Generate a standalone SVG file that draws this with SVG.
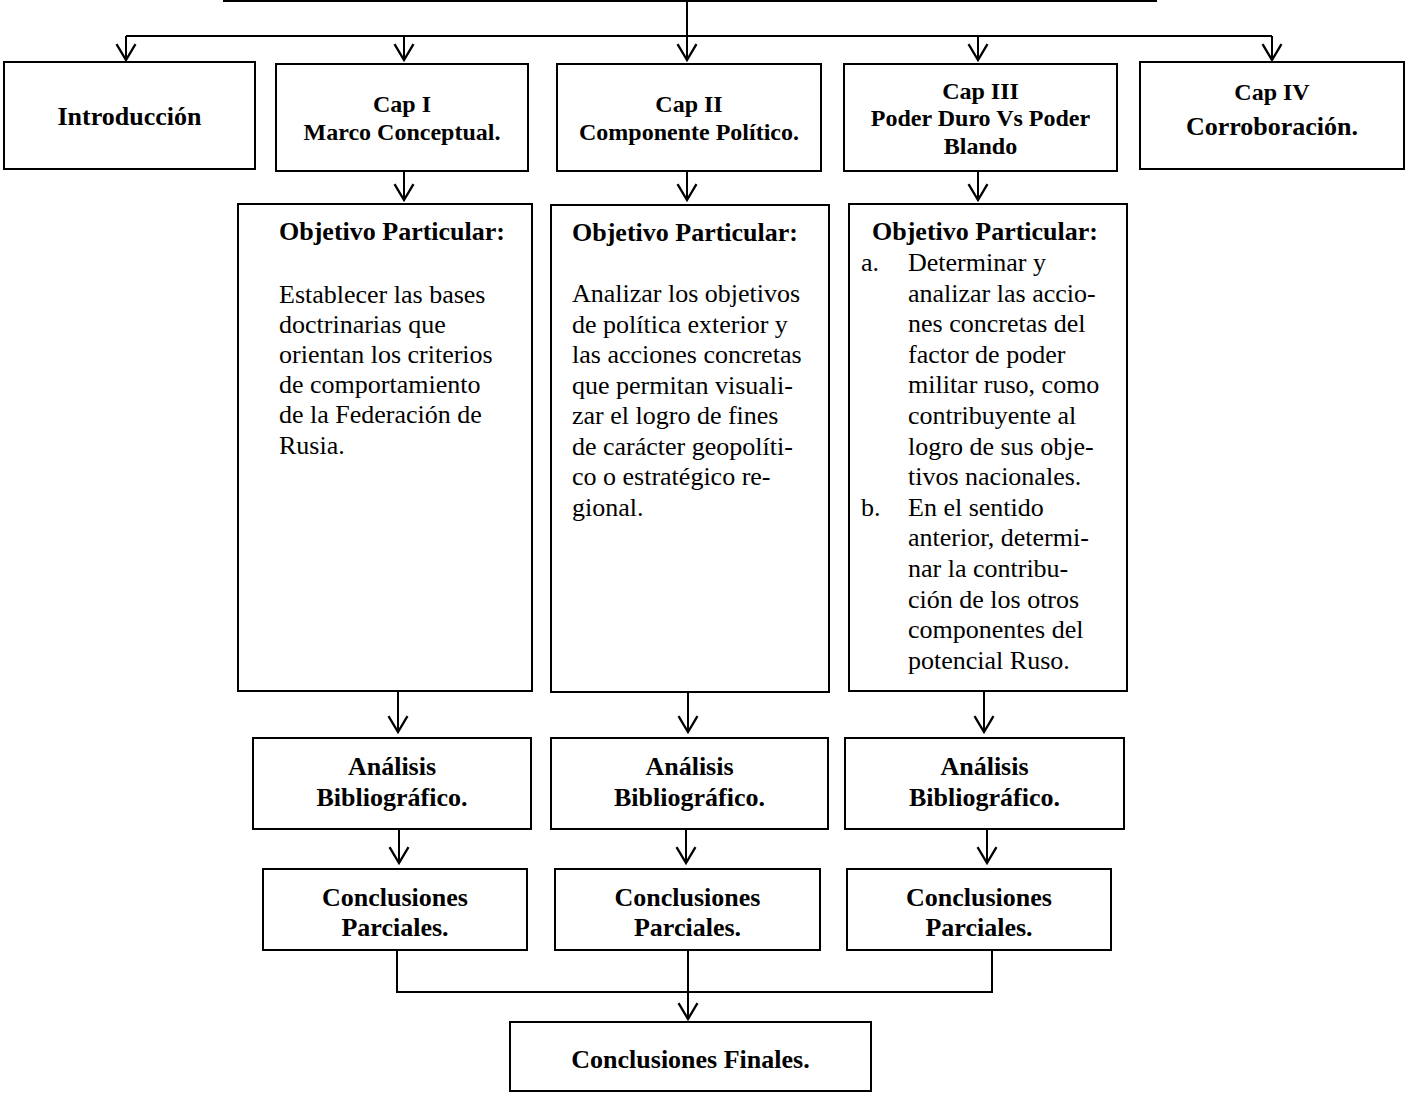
<svg xmlns="http://www.w3.org/2000/svg" width="1409" height="1093" viewBox="0 0 1409 1093">
<style>
  .box { fill: #ffffff; stroke: #000000; stroke-width: 2; }
  .ln { fill: none; stroke: #000000; stroke-width: 2; }
  .arr { fill: none; stroke: #000000; stroke-width: 2; marker-end: url(#ah); }
  text { font-family: "Liberation Serif", "Times New Roman", serif; fill: #000000; }
  .t { font-weight: bold; text-anchor: middle; font-size: 24px; }
  .tl { font-weight: bold; text-anchor: middle; font-size: 26px; }
  .h { font-weight: bold; font-size: 26px; }
  .b { font-size: 26px; }
</style>
<defs>
  <marker id="ah" markerUnits="userSpaceOnUse" markerWidth="20" markerHeight="24" viewBox="-17 -11 19 22" refX="0" refY="0" orient="auto">
    <path d="M-15,-9 L0,0 L-15,9" fill="none" stroke="#000000" stroke-width="2.2"/>
  </marker>
</defs>

<g id="connectors">
  <line class="ln" x1="223" y1="1" x2="1157" y2="1"/>
  <line class="arr" x1="687" y1="0" x2="687" y2="60"/>
  <path class="ln" d="M126,36 H1272"/>
  <line class="arr" x1="126" y1="36" x2="126" y2="60"/>
  <line class="arr" x1="404" y1="36" x2="404" y2="60"/>
  <line class="arr" x1="978" y1="36" x2="978" y2="60"/>
  <line class="arr" x1="1272" y1="36" x2="1272" y2="60"/>

  <line class="arr" x1="404" y1="171" x2="404" y2="200"/>
  <line class="arr" x1="687" y1="171" x2="687" y2="200"/>
  <line class="arr" x1="978" y1="171" x2="978" y2="200"/>

  <line class="arr" x1="398" y1="691" x2="398" y2="732"/>
  <line class="arr" x1="688" y1="692" x2="688" y2="732"/>
  <line class="arr" x1="984" y1="691" x2="984" y2="732"/>

  <line class="arr" x1="399" y1="829" x2="399" y2="863"/>
  <line class="arr" x1="686" y1="829" x2="686" y2="863"/>
  <line class="arr" x1="987" y1="829" x2="987" y2="863"/>

  <path class="ln" d="M397,950 V992 H992 V950"/>
  <line class="arr" x1="688" y1="950" x2="688" y2="1019"/>
</g>

<g id="introduccion">
  <rect class="box" x="4" y="62" width="251" height="107"/>
  <text class="tl" x="129.5" y="125">Introducción</text>
</g>

<g id="cap1">
  <rect class="box" x="276" y="64" width="252" height="107"/>
  <text class="t" x="402" y="112">Cap I</text>
  <text class="t" x="402" y="140">Marco Conceptual.</text>
</g>

<g id="cap2">
  <rect class="box" x="557" y="64" width="264" height="107"/>
  <text class="t" x="689" y="112">Cap II</text>
  <text class="t" x="689" y="140">Componente Político.</text>
</g>

<g id="cap3">
  <rect class="box" x="844" y="64" width="273" height="107"/>
  <text class="t" x="980.5" y="99">Cap III</text>
  <text class="t" x="980.5" y="126">Poder Duro Vs Poder</text>
  <text class="t" x="980.5" y="154">Blando</text>
</g>

<g id="cap4">
  <rect class="box" x="1140" y="62" width="264" height="107"/>
  <text class="t" x="1272" y="100">Cap IV</text>
  <text class="tl" x="1272" y="135">Corroboración.</text>
</g>

<g id="objetivo1">
  <rect class="box" x="238" y="204" width="294" height="487"/>
  <text class="h" x="279" y="240">Objetivo Particular:</text>
  <text class="b">
    <tspan x="279" y="302.5">Establecer las bases</tspan>
    <tspan x="279" y="332.7">doctrinarias que</tspan>
    <tspan x="279" y="362.9">orientan los criterios</tspan>
    <tspan x="279" y="393.1">de comportamiento</tspan>
    <tspan x="279" y="423.3">de la Federación de</tspan>
    <tspan x="279" y="453.5">Rusia.</tspan>
  </text>
</g>

<g id="objetivo2">
  <rect class="box" x="551" y="205" width="278" height="487"/>
  <text class="h" x="572" y="241">Objetivo Particular:</text>
  <text class="b">
    <tspan x="572" y="302">Analizar los objetivos</tspan>
    <tspan x="572" y="332.5">de política exterior y</tspan>
    <tspan x="572" y="363">las acciones concretas</tspan>
    <tspan x="572" y="393.5">que permitan visuali-</tspan>
    <tspan x="572" y="424">zar el logro de fines</tspan>
    <tspan x="572" y="454.5">de carácter geopolíti-</tspan>
    <tspan x="572" y="485">co o estratégico re-</tspan>
    <tspan x="572" y="515.5">gional.</tspan>
  </text>
</g>

<g id="objetivo3">
  <rect class="box" x="849" y="204" width="278" height="487"/>
  <text class="h" x="872" y="240">Objetivo Particular:</text>
  <text class="b">
    <tspan x="861" y="271">a.</tspan>
    <tspan x="861" y="515.8">b.</tspan>
  </text>
  <text class="b">
    <tspan x="908" y="271">Determinar y</tspan>
    <tspan x="908" y="301.6">analizar las accio-</tspan>
    <tspan x="908" y="332.2">nes concretas del</tspan>
    <tspan x="908" y="362.8">factor de poder</tspan>
    <tspan x="908" y="393.4">militar ruso, como</tspan>
    <tspan x="908" y="424">contribuyente al</tspan>
    <tspan x="908" y="454.6">logro de sus obje-</tspan>
    <tspan x="908" y="485.2">tivos nacionales.</tspan>
    <tspan x="908" y="515.8">En el sentido</tspan>
    <tspan x="908" y="546.4">anterior, determi-</tspan>
    <tspan x="908" y="577">nar la contribu-</tspan>
    <tspan x="908" y="607.6">ción de los otros</tspan>
    <tspan x="908" y="638.2">componentes del</tspan>
    <tspan x="908" y="668.8">potencial Ruso.</tspan>
  </text>
</g>

<g id="analisis1">
  <rect class="box" x="253" y="738" width="278" height="91"/>
  <text class="tl" x="392" y="775">Análisis</text>
  <text class="tl" x="392" y="806">Bibliográfico.</text>
</g>
<g id="analisis2">
  <rect class="box" x="551" y="738" width="277" height="91"/>
  <text class="tl" x="689.5" y="775">Análisis</text>
  <text class="tl" x="689.5" y="806">Bibliográfico.</text>
</g>
<g id="analisis3">
  <rect class="box" x="845" y="738" width="279" height="91"/>
  <text class="tl" x="984.5" y="775">Análisis</text>
  <text class="tl" x="984.5" y="806">Bibliográfico.</text>
</g>

<g id="conclusiones1">
  <rect class="box" x="263" y="869" width="264" height="81"/>
  <text class="tl" x="395" y="906">Conclusiones</text>
  <text class="tl" x="395" y="936">Parciales.</text>
</g>
<g id="conclusiones2">
  <rect class="box" x="555" y="869" width="265" height="81"/>
  <text class="tl" x="687.5" y="906">Conclusiones</text>
  <text class="tl" x="687.5" y="936">Parciales.</text>
</g>
<g id="conclusiones3">
  <rect class="box" x="847" y="869" width="264" height="81"/>
  <text class="tl" x="979" y="906">Conclusiones</text>
  <text class="tl" x="979" y="936">Parciales.</text>
</g>

<g id="conclusiones-finales">
  <rect class="box" x="510" y="1022" width="361" height="69"/>
  <text class="tl" x="690.5" y="1068">Conclusiones Finales.</text>
</g>
</svg>
